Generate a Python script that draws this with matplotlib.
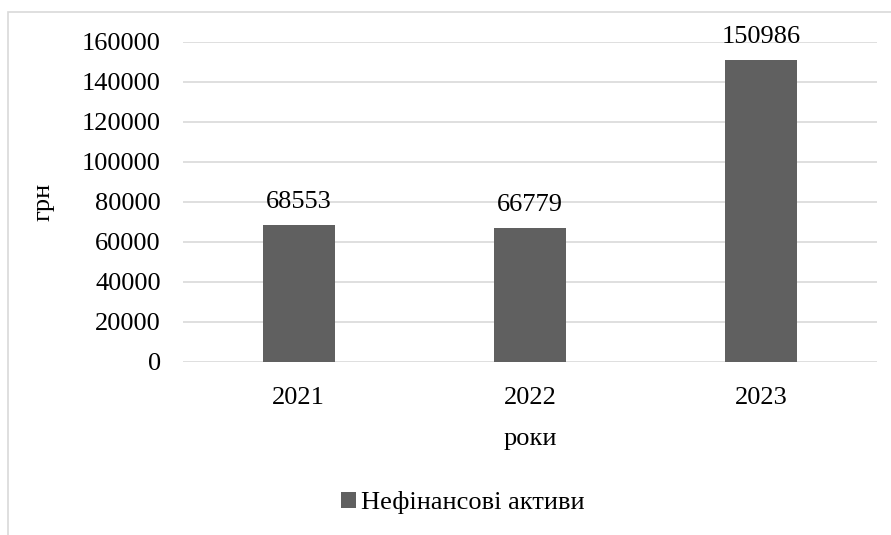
import matplotlib.pyplot as plt
from matplotlib.patches import Rectangle

# дані
years  = ['2021', '2022', '2023']
values = [68553, 66779, 150986]
series = 'Нефінансові активи'

plt.rcParams['font.family'] = ['Liberation Serif', 'DejaVu Serif']
fs = 19

fig = plt.figure(figsize=(8.91, 5.35), dpi=100)
ax = fig.add_axes([183/891, 1-362/535, (877-183)/891, (362-42)/535])

x = list(range(len(years)))
bars = ax.bar(x, values, width=0.31, color='#606060', label=series, zorder=3)
for xi, v in zip(x, values):
    # підпис над стовпчиком, базова лінія ~17px вище
    ax.text(xi, v + 8500, str(v), ha='center', va='baseline', fontsize=fs)

ax.set_xlim(-0.5, 2.5)
ax.set_ylim(0, 160000)
ax.set_yticks(range(0, 160001, 20000))
ax.set_xticks(x)
ax.set_xticklabels(years)
ax.tick_params(axis='both', length=0, labelsize=fs)
ax.tick_params(axis='y', pad=16)
ax.tick_params(axis='x', pad=18)
ax.grid(axis='y', color='#d9d9d9', linewidth=1.2, zorder=0)
for s in ax.spines.values():
    s.set_visible(False)

ax.set_xlabel('роки', fontsize=fs, labelpad=14)
ax.set_ylabel('грн', fontsize=fs, labelpad=20)

fig.legend(loc='center', bbox_to_anchor=(463/891, 1-503/535), frameon=False,
           fontsize=fs, handlelength=0.55, handleheight=0.55, handletextpad=0.2)

fig.patches.append(Rectangle((8/891, -0.1), 1.2, 1-12/535+0.1, transform=fig.transFigure,
                             fill=False, edgecolor='#d9d9d9', linewidth=1.2))

fig.savefig('out.png', dpi=100)
